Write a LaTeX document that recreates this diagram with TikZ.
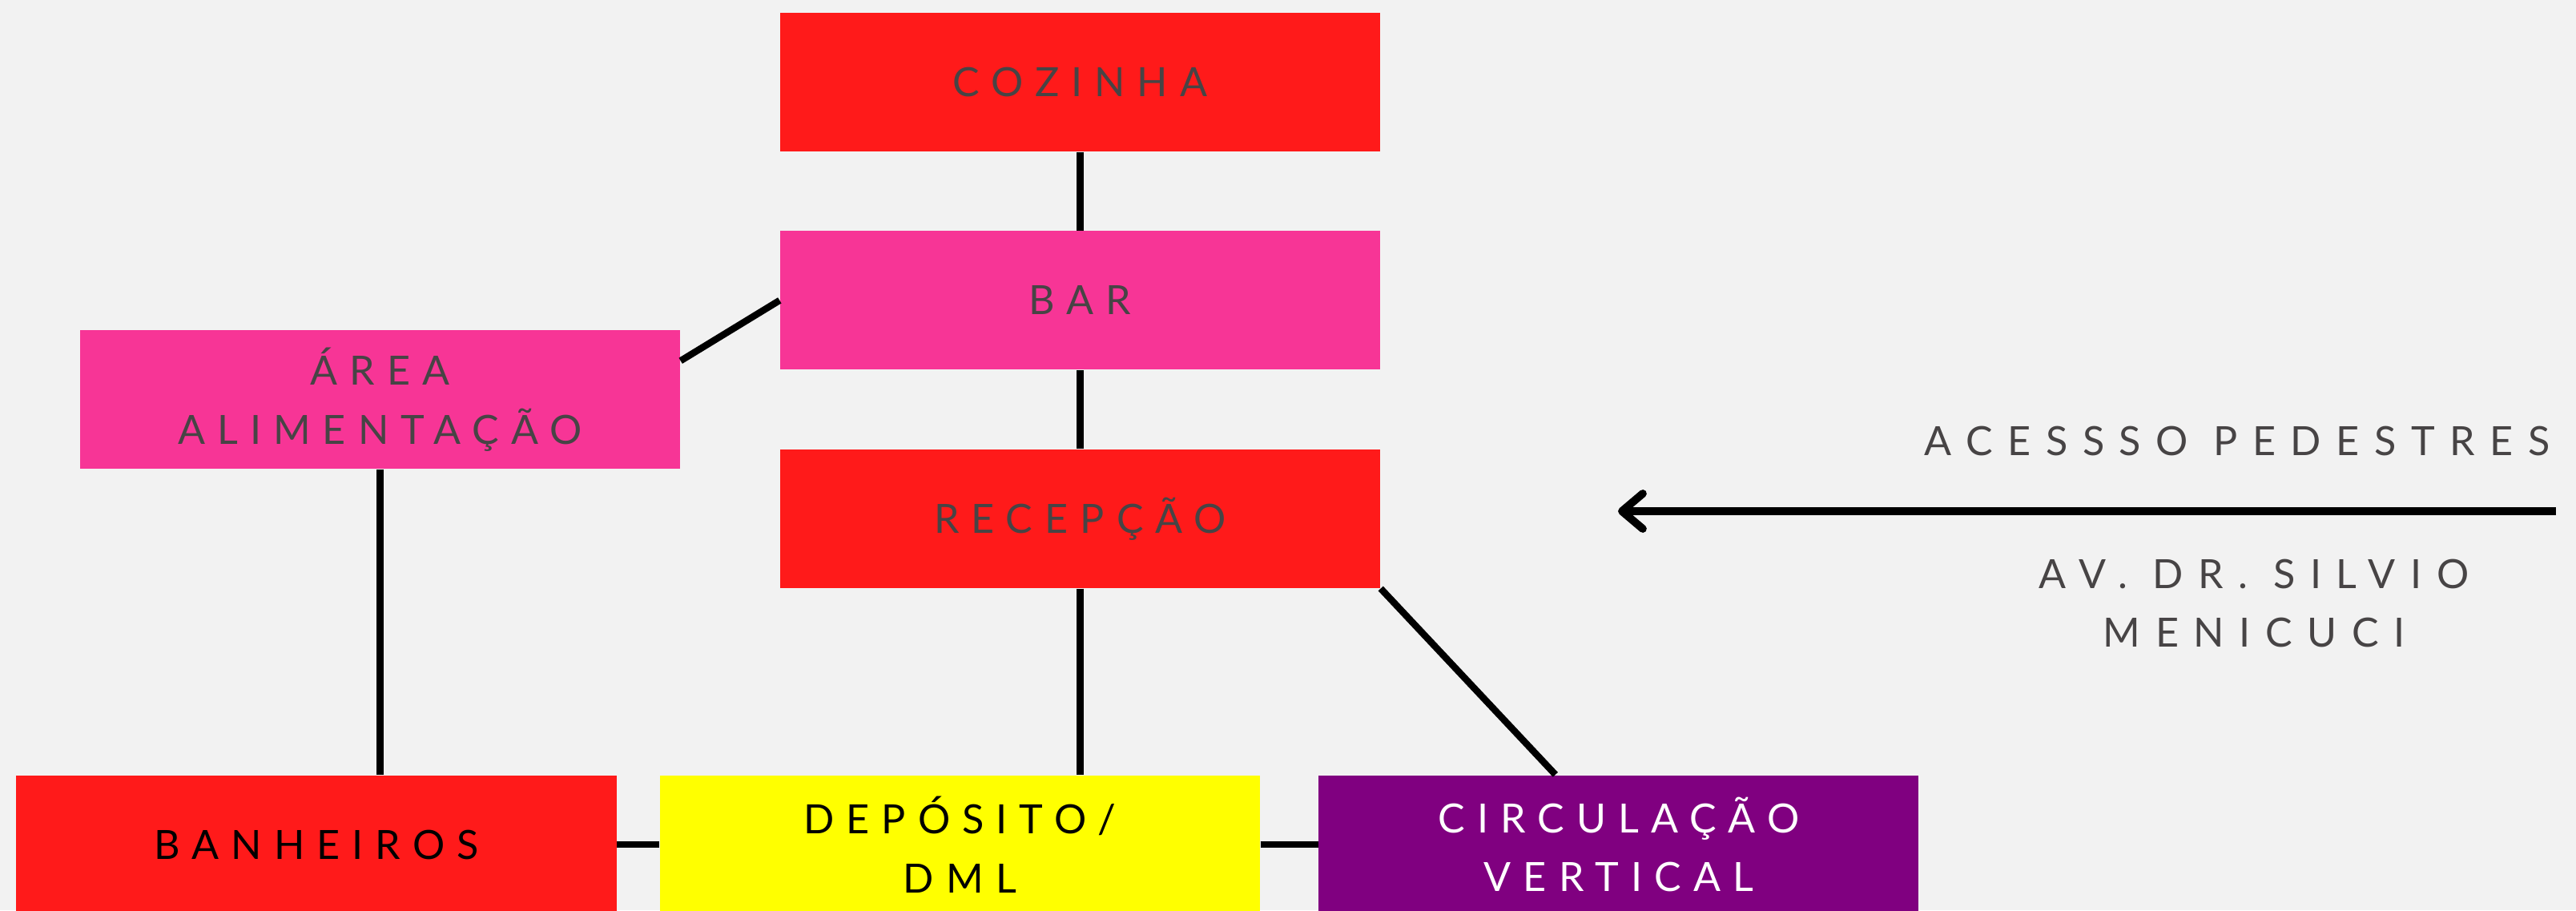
\documentclass[tikz,border=0pt]{standalone}
\usepackage{fontspec}
\usepackage{xcolor}
\usepackage{tikz}
\usetikzlibrary{positioning,calc}
\usetikzlibrary{arrows.meta}
\newfontfamily\spacedfont[LetterSpace=30]{Lato}
\newfontfamily\widefont[LetterSpace=37]{Lato}
\definecolor{bgGray}{HTML}{F2F2F2}
\definecolor{strongRed}{HTML}{FF1A1A}
\definecolor{strongPink}{HTML}{F73596}
\definecolor{strongYellow}{HTML}{FFFF00}
\definecolor{strongPurple}{HTML}{800080}
\definecolor{textGray}{HTML}{474445}
\tikzstyle{roomBox}   =[rectangle, minimum width=7.49cm, minimum height=1.73cm, inner sep=0pt,
                        align=center, text=textGray, font=\spacedfont\fontsize{14.3}{21}\selectfont]
\tikzstyle{roomRed}   =[roomBox, fill=strongRed]
\tikzstyle{roomPink}  =[roomBox, fill=strongPink]
\tikzstyle{roomYellow}=[roomBox, fill=strongYellow, text=black]
\tikzstyle{roomPurple}=[roomBox, fill=strongPurple, text=white]
\tikzstyle{link}      =[line width=2.4pt, black]
\tikzstyle{streetText}=[align=center, text=textGray, font=\widefont\fontsize{14.3}{21}\selectfont]

\begin{document}
\begin{tikzpicture}[]
      \clip (0,0) rectangle (32.16,11.36);
      \fill[bgGray] (0,0) rectangle (32.16,11.36);
      % rooms
      \node[roomRed] (cozinha) [] at (13.485,10.335) {COZINHA};
      \node[roomPink] (bar) [below = 0.98cm of cozinha] {BAR};
      \node[roomRed] (recepcao) [below = 0.98cm of bar] {RECEPÇÃO};
      \node[roomPink] (area) [] at (4.745,6.375) {ÁREA\\ALIMENTAÇÃO};
      \node[roomRed, text=black] (banheiros) [] at (3.95,0.82) {BANHEIROS};
      \node[roomYellow] (deposito) [right = 0.53cm of banheiros] {DEPÓSITO/\\DML};
      \node[roomPurple] (circulacao) [right = 0.72cm of deposito] {CIRCULAÇÃO\\VERTICAL};
      % street side
      \node[streetText] (acesso) [] at (27.93,5.86) {ACESSSO PEDESTRES};
      \node[streetText] (avenida) [] at (28.14,3.83) {AV. DR. SILVIO\\MENICUCI};
      \coordinate (rua) at (31.91,4.98);
      \coordinate (entrada) at (20.20,4.98);
      % links
      \draw[link] (cozinha) -- (bar);
      \draw[link] (bar) -- (recepcao);
      \draw[link] (recepcao.south) -- (recepcao.south |- deposito.north);
      \draw[link] (bar.west) -- ([yshift=-0.39cm]area.north east);
      \draw[link] (area.south) -- (area.south |- banheiros.north);
      \draw[link] (recepcao.south east) -- ([xshift=-0.79cm]circulacao.north);
      \draw[link] (banheiros) -- (deposito);
      \draw[link] (deposito) -- (circulacao);
      \draw[line width=2.8pt, -{Straight Barb[length=2.6mm, width=4.4mm, round]}] (rua) -- (entrada);
    \end{tikzpicture}
\end{document}
